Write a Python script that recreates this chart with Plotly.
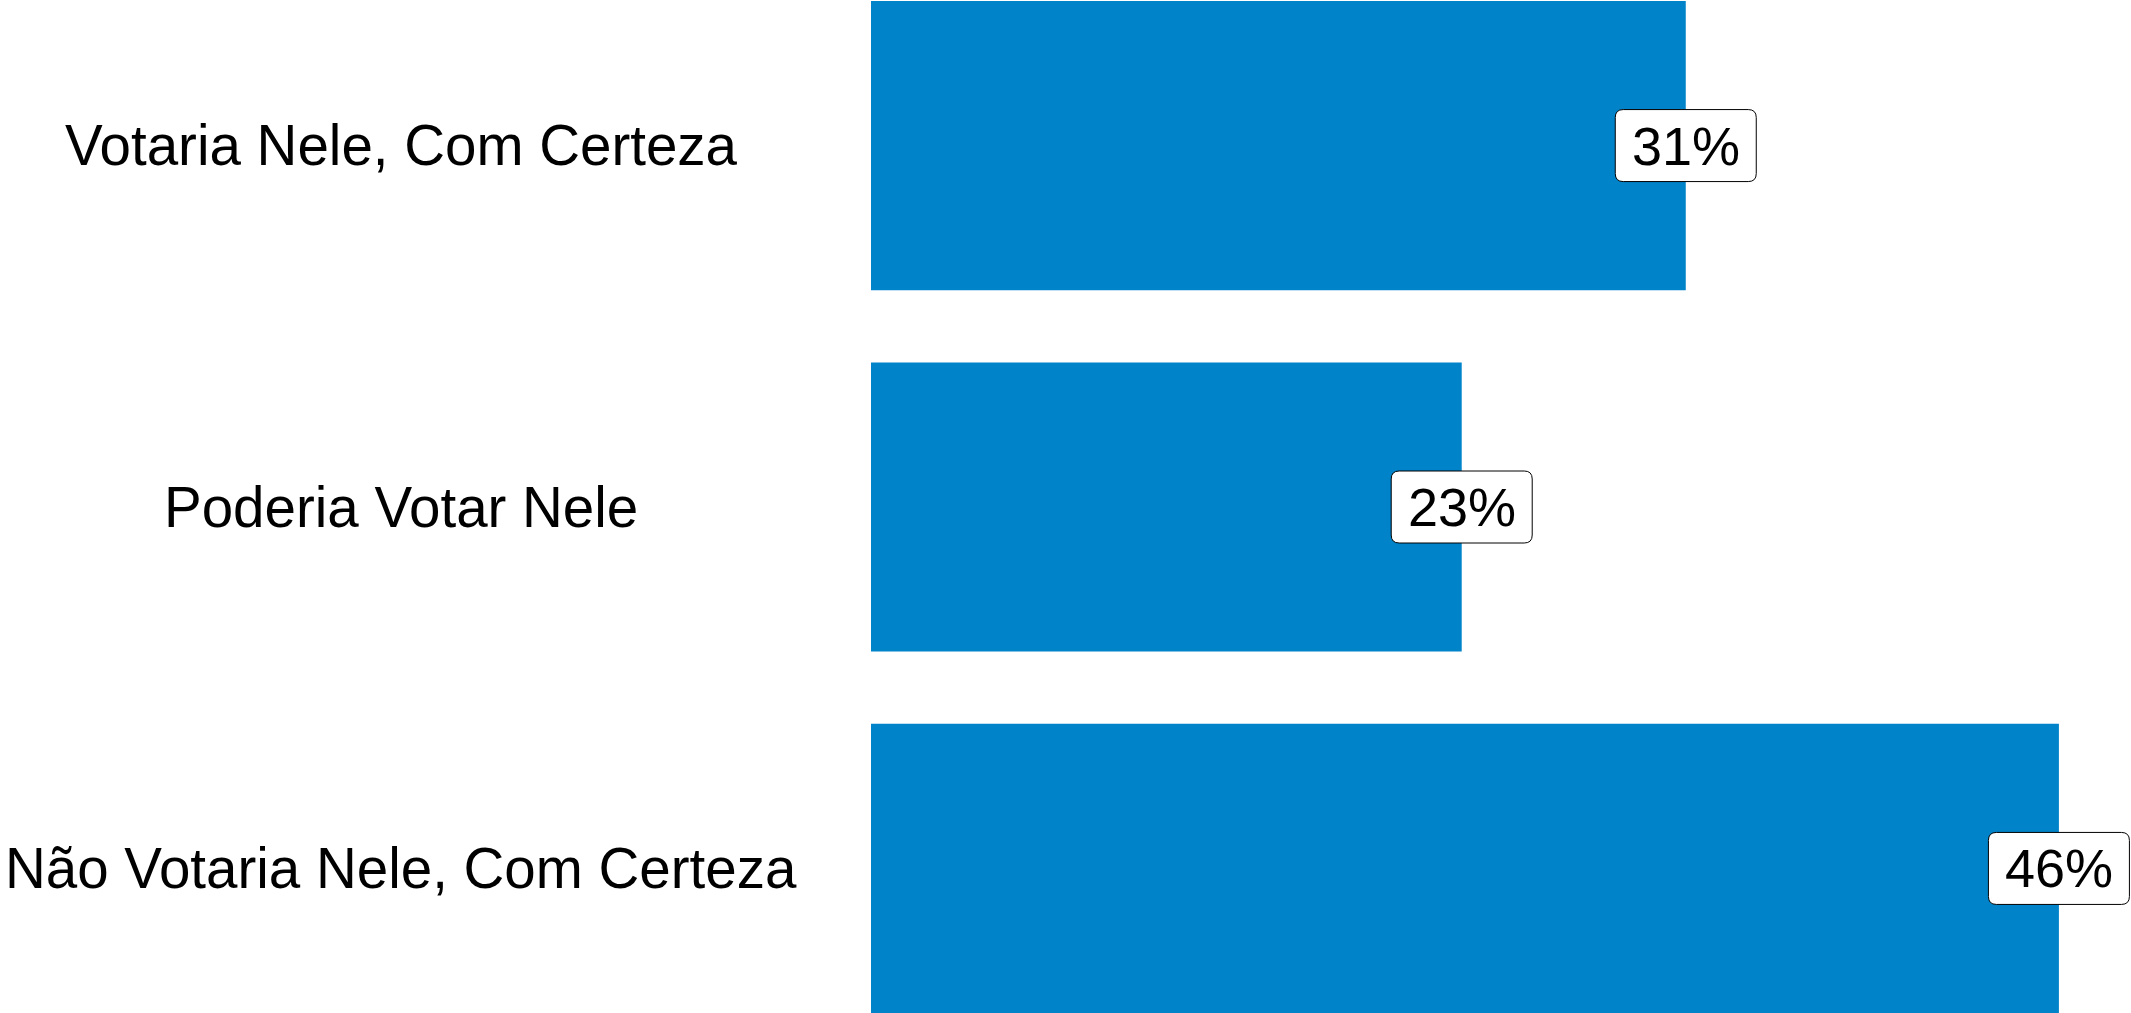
import plotly.graph_objects as go

categories = ["Votaria Nele, Com Certeza", "Poderia Votar Nele", "Não Votaria Nele, Com Certeza"]
values = [31.42, 22.78, 45.81]
value_labels = ["31%", "23%", "46%"]

BAR_COLOR = "#0083c9"
FONT = "Arial, Liberation Sans, sans-serif"

fig = go.Figure(
    go.Bar(
        x=values,
        y=categories,
        orientation="h",
        marker=dict(color=BAR_COLOR, line=dict(width=0)),
        hoverinfo="skip",
    )
)

# rounded label boxes (pixel-sized, anchored at bar ends)
w, h, r = 141, 72, 8
hw, hh = w / 2, h / 2
box_path = (
    f"M {-hw + r},{-hh} L {hw - r},{-hh} Q {hw},{-hh} {hw},{-hh + r} "
    f"L {hw},{hh - r} Q {hw},{hh} {hw - r},{hh} "
    f"L {-hw + r},{hh} Q {-hw},{hh} {-hw},{hh - r} "
    f"L {-hw},{-hh + r} Q {-hw},{-hh} {-hw + r},{-hh} Z"
)

shapes = []
annotations = []
for i, (cat, v, lab) in enumerate(zip(categories, values, value_labels)):
    shapes.append(
        dict(
            type="path",
            xref="x",
            yref="y",
            xsizemode="pixel",
            ysizemode="pixel",
            xanchor=v,
            yanchor=i,
            path=box_path,
            fillcolor="white",
            line=dict(color="black", width=1),
            layer="above",
        )
    )
    annotations.append(
        dict(
            x=v,
            y=cat,
            xref="x",
            yref="y",
            text=lab,
            showarrow=False,
            font=dict(family=FONT, size=54, color="black"),
            xanchor="center",
            yanchor="middle",
        )
    )
    annotations.append(
        dict(
            x=-0.373,
            y=cat,
            xref="paper",
            yref="y",
            text=cat,
            showarrow=False,
            font=dict(family=FONT, size=56.5, color="black"),
            xanchor="center",
            yanchor="middle",
        )
    )

fig.update_layout(
    width=2131,
    height=1013,
    margin=dict(l=871, r=0, t=1, b=0),
    paper_bgcolor="white",
    plot_bgcolor="white",
    bargap=0.2,
    showlegend=False,
    hovermode=False,
    shapes=shapes,
    annotations=annotations,
    xaxis=dict(
        range=[0, 48.59],
        visible=False,
        showgrid=False,
        zeroline=False,
    ),
    yaxis=dict(
        type="category",
        range=[2.4, -0.4],
        showticklabels=False,
        showgrid=False,
        zeroline=False,
        showline=False,
        ticks="",
    ),
)

fig.write_html(
    "out.html",
    config={"displayModeBar": False, "staticPlot": True},
    post_script="document.body.style.margin='0';document.body.style.overflow='hidden';",
)
